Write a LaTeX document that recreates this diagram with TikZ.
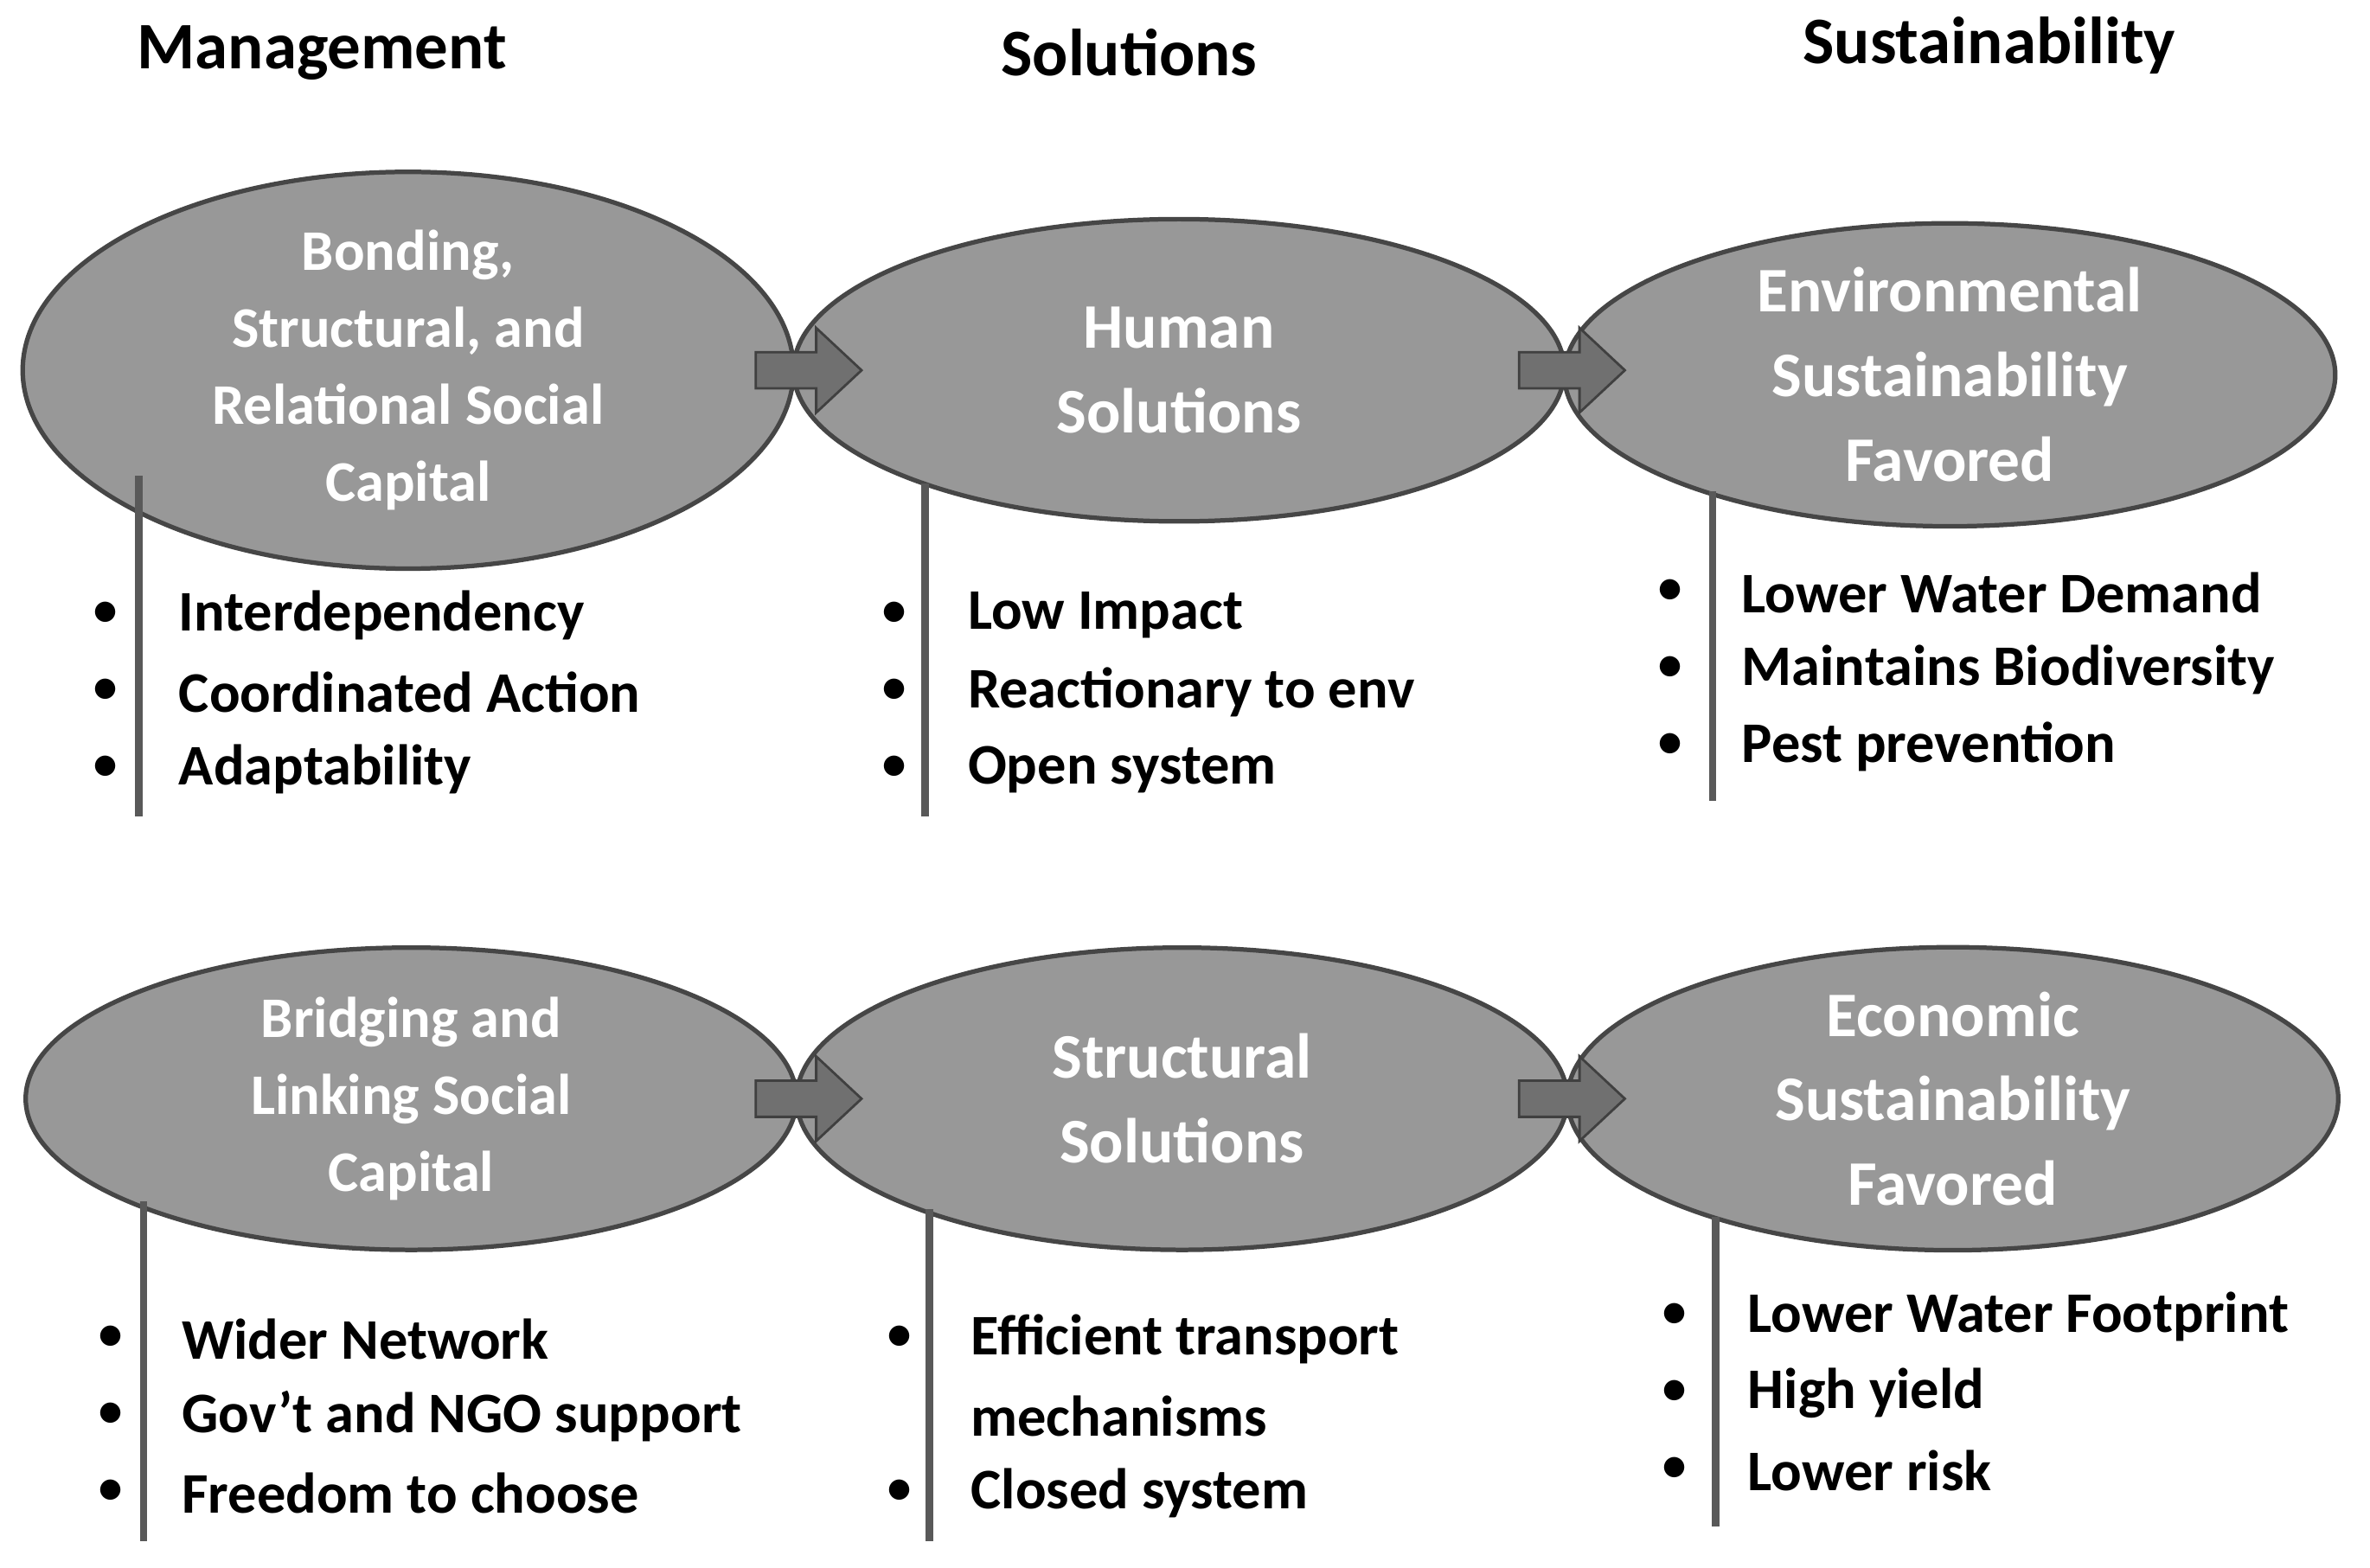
\documentclass[tikz,border=0pt]{standalone}
\usepackage{fontspec}
\setmainfont{Carlito}
\begin{document}
\begin{tikzpicture}[x=0.5pt,y=-0.5pt,
 ell/.style={draw=gray!55!black,line width=1.5pt,fill=gray!85!black!70,ellipse,minimum width=255pt,minimum height=100pt,inner sep=0pt,font=\bfseries\fontsize{19}{25.5}\selectfont,text=white,align=center},
 big/.style={font=\bfseries\fontsize{21}{28}\selectfont},
 hdr/.style={font=\bfseries\fontsize{22}{26}\selectfont},
 itm/.style={anchor=west,font=\bfseries\fontsize{19}{25.5}\selectfont,inner sep=0pt},
 bul/.style={font=\fontsize{19}{25}\selectfont,inner sep=0pt},
 vl/.style={draw=gray!70!black,line width=2.5pt},
 arr/.style={fill=gray!60!black!80,draw=gray!50!black,line width=0.8pt}]
\useasboundingbox (0,0) rectangle (1568,1037);
\usetikzlibrary{shapes.geometric}
\node[hdr] (h1) at (213,35) {Management};
\node[hdr] (h2) at (747,35) {Solutions};
\node[hdr] (h3) at (1316,30) {Sustainability};
% row 1
\node[ell] (a1) at (270,245) {Bonding,\\Structural, and\\Relational Social\\Capital};
\node[ell,big] (a2) at (780,245) {Human\\Solutions};
\node[ell,big] (a3) at (1290,248) {Environmental\\Sustainability\\Favored};
\node[ell] (b1) at (272,727) {Bridging and\\Linking Social\\Capital};
\node[ell,big] (b2) at (782,727) {Structural\\Solutions};
\node[ell,big] (b3) at (1292,727) {Economic\\Sustainability\\Favored};
% arrows
\foreach \x/\y in {500/245,1005/245,500/727,1005/727}{
 \path[arr] (\x,\y-12) -- (\x+40,\y-12) -- (\x+40,\y-28) -- (\x+70,\y) -- (\x+40,\y+28) -- (\x+40,\y+12) -- (\x,\y+12) -- cycle;}
% vertical lines
\coordinate (l1a) at (92,315); \coordinate (l1b) at (92,540);
\coordinate (l2a) at (612,320); \coordinate (l2b) at (612,540);
\coordinate (l3a) at (1133,325); \coordinate (l3b) at (1133,530);
\coordinate (m1a) at (95,795); \coordinate (m1b) at (95,1020);
\coordinate (m2a) at (615,800); \coordinate (m2b) at (615,1020);
\coordinate (m3a) at (1135,805); \coordinate (m3b) at (1135,1010);
\foreach \p in {l1,l2,l3,m1,m2,m3}{\draw[vl] (\p a) -- (\p b);}
% lists
\foreach \t [count=\i] in {Interdependency,Coordinated Action,Adaptability}{
 \node[bul] (p1\i) at (70,356+51*\i) {•}; \node[itm] (t1\i) at (118,356+51*\i) {\t};}
\foreach \t [count=\i] in {Low Impact,Reactionary to env,Open system}{
 \node[bul] (p2\i) at (592,356+51*\i) {•}; \node[itm] (t2\i) at (640,356+51*\i) {\t};}
\foreach \t [count=\i] in {Lower Water Demand,Maintains Biodiversity,Pest prevention}{
 \node[bul] (p3\i) at (1105,341+51*\i) {•}; \node[itm] (t3\i) at (1152,341+51*\i) {\t};}
\foreach \t [count=\i] in {Wider Network,Gov’t and NGO support,Freedom to choose}{
 \node[bul] (q1\i) at (73,835+51*\i) {•}; \node[itm] (s1\i) at (120,835+51*\i) {\t};}
\node[bul] (q21) at (595,886) {•}; \node[itm] (s21) at (642,886) {Efficient transport};
\node[itm] (s22) at (642,937) {mechanisms};
\node[bul] (q23) at (595,988) {•}; \node[itm] (s23) at (642,988) {Closed system};
\foreach \t [count=\i] in {Lower Water Footprint,High yield,Lower risk}{
 \node[bul] (q3\i) at (1108,820+51*\i) {•}; \node[itm] (s3\i) at (1156,820+51*\i) {\t};}
\end{tikzpicture}
\end{document}
